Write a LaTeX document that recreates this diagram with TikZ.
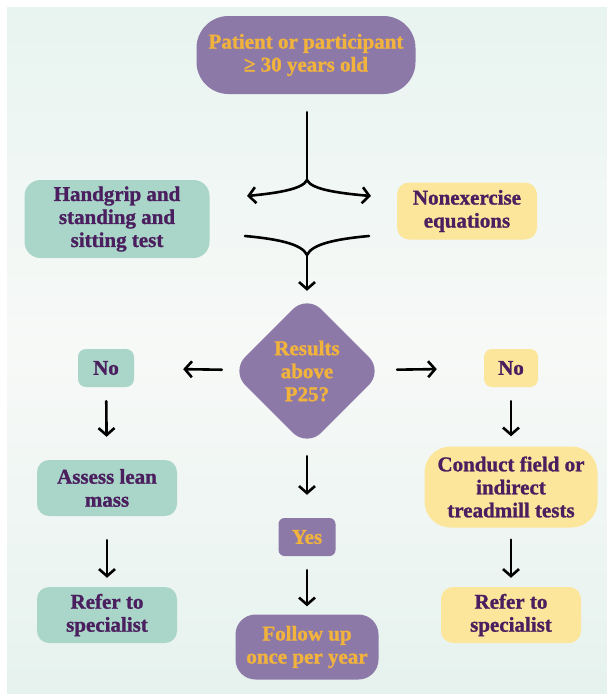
\documentclass[tikz,border=0pt]{standalone}
\usepackage{fontspec}
\setmainfont{Liberation Serif}[BoldFeatures={FakeBold=1.2}]
\usetikzlibrary{positioning,shapes.geometric,arrows.meta}
\definecolor{bgTop}{RGB}{232,244,240}
\definecolor{bgMid}{RGB}{247,249,247}
\definecolor{bgBottom}{RGB}{230,242,238}
\definecolor{purpleBox}{RGB}{141,121,168}
\definecolor{goldText}{RGB}{242,179,61}
\definecolor{tealBox}{RGB}{169,214,200}
\definecolor{yellowBox}{RGB}{252,230,155}
\definecolor{plumText}{RGB}{75,31,95}
\tikzstyle{pixels} = [x=1pt, y=-1pt]
\tikzstyle{boxStyle} = [align=center, inner sep=0pt, font=\fontsize{21}{23}\selectfont\bfseries]
\tikzstyle{purpleStyle} = [boxStyle, fill=purpleBox, text=goldText]
\tikzstyle{tealStyle} = [boxStyle, fill=tealBox, text=plumText]
\tikzstyle{yellowStyle} = [boxStyle, fill=yellowBox, text=plumText]
\tikzstyle{lineStyle} = [line width=2.6pt, black, line cap=round]
\tikzstyle{arrowStyle} = [lineStyle, -{Straight Barb[length=7pt, width=16pt]}]
\tikzset{boxSize/.style n args={3}{minimum width=#1pt, minimum height=#2pt, rounded corners=#3pt}}

\begin{document}
\begin{tikzpicture}[pixels]
  % background panel
  \fill[white] (0,0) rectangle (607,694);
  \shade[top color=bgTop, bottom color=bgBottom, middle color=bgMid] (7,7) rectangle (607,694);
  \useasboundingbox (0,0) rectangle (607,694);

  % nodes
  \node[purpleStyle, boxSize={219}{78}{32}] (patient) at (306,55) {Patient or participant\\≥ 30 years old};
  \node[tealStyle, boxSize={185}{78}{16}] (hand) at (117,219) {Handgrip and\\standing and\\sitting test};
  \node[yellowStyle, boxSize={140}{57}{12}] (nonex) at (467,211) {Nonexercise\\equations};
  \node[purpleStyle, diamond, minimum width=152pt, minimum height=152pt, rounded corners=20pt] (results) at (307,371) {Results\\above\\P25?};
  \node[tealStyle, boxSize={56}{38}{8}] (noLeft) at (106,368) {No};
  \node[yellowStyle, boxSize={54}{38}{8}] (noRight) at (511,368) {No};
  \node[tealStyle, boxSize={140}{56}{12}] (assess) at (107,488) {Assess lean\\mass};
  \node[tealStyle, boxSize={140}{56}{12}] (referLeft) at (107,615) {Refer to\\specialist};
  \node[purpleStyle, boxSize={57}{38}{6}] (yes) at (307,537) {Yes};
  \node[purpleStyle, boxSize={143}{65}{20}] (follow) at (307,647) {Follow up\\once per year};
  \node[yellowStyle, boxSize={173}{81}{26}] (conduct) at (511,487) {Conduct field or\\indirect\\treadmill tests};
  \node[yellowStyle, boxSize={140}{56}{12}] (referRight) at (511,615) {Refer to\\specialist};

  % split and merge points
  \coordinate (split) at (307,180);
  \coordinate (splitL) at (247,196);
  \coordinate (splitR) at (371,196);
  \coordinate (mergeL) at (245,236);
  \coordinate (mergeR) at (369,236);
  \coordinate (merge) at (307,255);

  % connectors
  \draw[lineStyle, shorten <=18pt] (patient.south -| split) -- (split);
  \draw[arrowStyle] (split) .. controls (303,189) and (278,193) .. (splitL);
  \draw[arrowStyle] (split) .. controls (311,189) and (336,193) .. (splitR);
  \draw[lineStyle] (mergeL) .. controls (278,239) and (302,244) .. (merge);
  \draw[lineStyle] (mergeR) .. controls (336,239) and (312,244) .. (merge);
  \draw[arrowStyle, shorten >=4pt] (merge) -- (results);

  \draw[arrowStyle, shorten <=10pt, shorten >=49pt] (results) -- (noLeft);
  \draw[arrowStyle, shorten <=15pt, shorten >=47pt] (results) -- (noRight);
  \draw[arrowStyle, shorten <=14pt, shorten >=23pt] (noLeft) -- (assess);
  \draw[arrowStyle, shorten <=24pt, shorten >=9pt] (assess) -- (referLeft);
  \draw[arrowStyle, shorten <=9pt, shorten >=23pt] (results) -- (yes);
  \draw[arrowStyle, shorten <=14pt, shorten >=8pt] (yes) -- (follow);
  \draw[arrowStyle, shorten <=14pt, shorten >=10pt] (noRight) -- (conduct);
  \draw[arrowStyle, shorten <=12pt, shorten >=9pt] (conduct) -- (referRight);
\end{tikzpicture}
\end{document}
